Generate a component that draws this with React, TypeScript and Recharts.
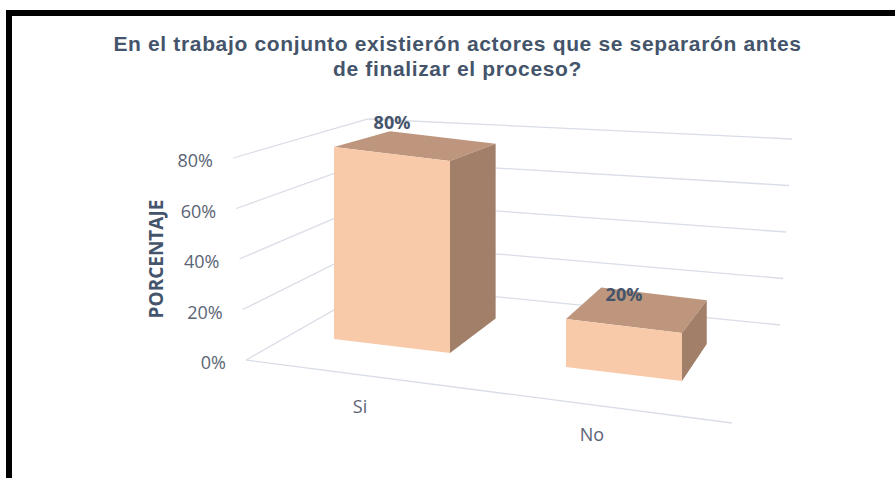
import { Bar, BarChart, CartesianGrid, LabelList, XAxis, YAxis } from "recharts";

const TITLE = [
  "En el trabajo conjunto existierón actores que se separarón antes",
  "de finalizar el proceso?",
];
const CATEGORIES = ["Si", "No"];
const SHARE = [0.8, 0.2];
const Y_TICKS = [0, 0.2, 0.4, 0.6, 0.8];
const Y_LABEL = "PORCENTAJE";

const data = CATEGORIES.map((name, i) => ({ name, value: SHARE[i] }));

const W = 895;
const H = 478;
const PLOT = { left: 276, right: 740, top: 158, bottom: 360 };
const Y_AXIS_W = 60;
const X_AXIS_H = 30;
// the boxes stand in front of the back wall, so they come out a little shorter than the wall scale
const BAR_SCALE = 192 / (PLOT.bottom - PLOT.top);

// fake perspective: the floor tilts down to the right and everything recedes toward VP
const SKEW = 0.12;
const SKEW_X0 = (PLOT.left + PLOT.right) / 2;
const VP = { x: 957, y: -30 };
const DEPTH = 0.09;

// outline of the wall gridlines, at 0% and at the top tick
const WALL = {
  start: [246, 233],
  corner: [
    [378, 285],
    [368, 119],
  ],
  end: [
    [780, 325],
    [792, 139],
  ],
  floorEnd: [732, 423],
};

const FACE = "#f8caa9";
const TOP = "#bd967d";
const SIDE = "#a27f69";
const INK = "#44546a";
const TICK = "#5b6475";
const GRID = "#d9dde6";
const FONT = "'Open Sans', sans-serif";

const pct = (v: number) => `${Math.round(v * 100)}%`;
const mix = (a: number, b: number, t: number) => a + (b - a) * t;
const lift = (x: number, y: number) => y + SKEW * (x - SKEW_X0);
const recede = ([x, y]: number[]) => [x + DEPTH * (VP.x - x), y + DEPTH * (VP.y - y)];
const pts = (p: number[][]) => p.map((q) => q.join(",")).join(" ");
const wallT = (y: number) => (PLOT.bottom - y) / (PLOT.bottom - PLOT.top);
const boxTop = (y: number, height: number) => y + height - height * BAR_SCALE;

function Box(props: any) {
  const { x, y, width, height } = props;
  const top = boxTop(y, height);
  const bottom = y + height;
  const ftl = [x, lift(x, top)];
  const ftr = [x + width, lift(x + width, top)];
  const fbr = [x + width, lift(x + width, bottom)];
  const fbl = [x, lift(x, bottom)];
  const btl = recede(ftl);
  const btr = recede(ftr);
  const bbr = recede(fbr);
  return (
    <g>
      <polygon points={pts([ftl, btl, btr, ftr])} fill={TOP} />
      <polygon points={pts([ftr, btr, bbr, fbr])} fill={SIDE} />
      <polygon points={pts([ftl, ftr, fbr, fbl])} fill={FACE} />
    </g>
  );
}

function wallLine(props: any) {
  const y = props.y1;
  const t = wallT(y);
  const s = [mix(WALL.start[0], WALL.start[1], t), y];
  const c = [mix(WALL.corner[0][0], WALL.corner[1][0], t), mix(WALL.corner[0][1], WALL.corner[1][1], t)];
  const e = [mix(WALL.end[0][0], WALL.end[1][0], t), mix(WALL.end[0][1], WALL.end[1][1], t)];
  return (
    <g key={props.key}>
      <polyline points={pts([s, c, e])} fill="none" stroke={GRID} strokeWidth={1.3} />
      {t < 0.01 && <polyline points={pts([s, WALL.floorEnd])} fill="none" stroke={GRID} strokeWidth={1.3} />}
    </g>
  );
}

function WallTick(props: any) {
  const { y, payload } = props;
  const x = mix(WALL.start[0], WALL.start[1], wallT(y)) - 20;
  return (
    <text x={x} y={y + 9} textAnchor="end" fontSize={18} fill={TICK} fontFamily={FONT}>
      {pct(payload.value)}
    </text>
  );
}

function FloorTick(props: any) {
  const { x, payload } = props;
  const tx = x - 32;
  return (
    <text x={tx} y={lift(tx, PLOT.bottom) + 71} textAnchor="middle" fontSize={18} fill={TICK} fontFamily={FONT}>
      {payload.value}
    </text>
  );
}

function TopLabel(props: any) {
  const { x, y, width, height, value } = props;
  const cx = x + width / 2;
  return (
    <text
      x={cx}
      y={lift(cx, boxTop(y, height)) - 25}
      textAnchor="middle"
      fontSize={18}
      fontWeight={700}
      fill={INK}
      fontFamily={FONT}
    >
      {pct(value)}
    </text>
  );
}

export default function App() {
  return (
    <div style={{ position: "absolute", left: 0, top: 0, width: W, height: H, background: "#fff", overflow: "hidden" }}>
      <div
        style={{
          position: "absolute",
          left: 6,
          top: 10,
          width: W,
          height: H,
          borderTop: "6px solid #000",
          borderLeft: "6px solid #000",
        }}
      />
      <div
        style={{
          position: "absolute",
          left: 20,
          top: 31,
          width: 875,
          textAlign: "center",
          font: "bold 21px 'Liberation Sans', Arial, sans-serif",
          letterSpacing: "0.65px",
          lineHeight: "25px",
          color: INK,
        }}
      >
        {TITLE.map((line) => (
          <div key={line}>{line}</div>
        ))}
      </div>
      <div style={{ position: "absolute", left: 0, top: 0 }}>
        <BarChart
          width={W}
          height={H}
          data={data}
          margin={{
            top: PLOT.top,
            right: W - PLOT.right,
            bottom: H - PLOT.bottom - X_AXIS_H,
            left: PLOT.left - Y_AXIS_W,
          }}
        >
          <CartesianGrid vertical={false} horizontal={wallLine} />
          <XAxis
            dataKey="name"
            height={X_AXIS_H}
            axisLine={false}
            tickLine={false}
            interval={0}
            tick={(p: any) => <FloorTick {...p} />}
          />
          <YAxis
            domain={[0, 0.8]}
            ticks={Y_TICKS}
            interval={0}
            width={Y_AXIS_W}
            axisLine={false}
            tickLine={false}
            tick={(p: any) => <WallTick {...p} />}
            label={{
              value: Y_LABEL,
              angle: -90,
              position: "left",
              offset: 60,
              style: { textAnchor: "middle", fontWeight: 700, fontSize: 19, fill: INK, fontFamily: FONT },
            }}
          />
          <Bar dataKey="value" barSize={116} shape={(p: any) => <Box {...p} />} isAnimationActive={false}>
            <LabelList dataKey="value" content={TopLabel} />
          </Bar>
        </BarChart>
      </div>
    </div>
  );
}
